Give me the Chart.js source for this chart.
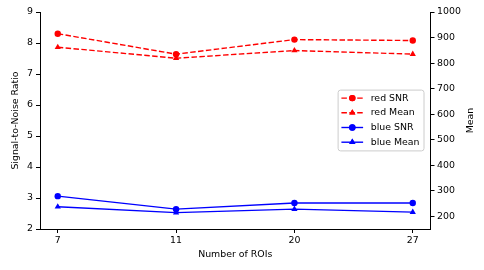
<!DOCTYPE html>
<html>
<head>
<meta charset="utf-8">
<script src="https://cdn.jsdelivr.net/npm/chart.js@4.4.1/dist/chart.umd.min.js"></script>
<style>
  html, body { margin: 0; padding: 0; background: #fff; }
  #wrap { width: 484px; height: 270px; }
</style>
</head>
<body>
<div id="wrap"><canvas id="roiChart" width="484" height="270"></canvas></div>
<script>
const roiCounts = ['7', '11', '20', '27'];
const redSnr = [8.30, 7.64, 8.11, 8.08];
const redMean = [862, 819, 849, 835];
const blueSnr = [3.06, 2.64, 2.84, 2.84];
const blueMean = [237, 214, 228, 216];
const snrTicks = [2, 3, 4, 5, 6, 7, 8, 9];
const meanTicks = [200, 300, 400, 500, 600, 700, 800, 900, 1000];

const FONT = { family: 'DejaVu Sans', size: 9.4 };
Chart.defaults.font.family = FONT.family;
Chart.defaults.font.size = FONT.size;
Chart.defaults.color = '#000';

const toPoints = arr => arr.map((v, i) => ({ x: i, y: v }));

function series(label, values, color, dashed, marker, axis) {
  return {
    label: label,
    data: toPoints(values),
    yAxisID: axis,
    borderColor: color,
    backgroundColor: color,
    borderWidth: 1.4,
    borderDash: dashed ? [5.5, 2.4] : [],
    pointStyle: marker,
    pointRadius: marker === 'triangle' ? 3.6 : 3.2,
    pointHoverRadius: 3.2,
    pointBorderWidth: 0,
    tension: 0
  };
}

/*............ legend inside the axes, centre right ............*/
const innerLegend = {
  id: 'innerLegend',
  afterDraw(chart) {
    const ctx = chart.ctx;
    const area = chart.chartArea;
    const sets = chart.data.datasets;
    ctx.save();
    ctx.font = FONT.size + 'px "' + FONT.family + '"';
    let textW = 0;
    sets.forEach(d => { textW = Math.max(textW, ctx.measureText(d.label).width); });
    const w = 32.6 + textW + 4.5;
    const rowH = 14.7;
    const h = rowH * sets.length + 2;
    const x = area.right - 6.5 - w;
    const y = (area.top + area.bottom) / 2 - h / 2;

    ctx.beginPath();
    ctx.roundRect(x, y, w, h, 2.5);
    ctx.fillStyle = 'rgba(255,255,255,0.8)';
    ctx.fill();
    ctx.strokeStyle = '#cccccc';
    ctx.lineWidth = 1;
    ctx.stroke();

    sets.forEach((d, i) => {
      const cy = y + 8 + i * rowH;
      ctx.beginPath();
      ctx.setLineDash(d.borderDash);
      ctx.strokeStyle = d.borderColor;
      ctx.lineWidth = d.borderWidth;
      ctx.moveTo(x + 3.3, cy);
      ctx.lineTo(x + 25, cy);
      ctx.stroke();
      ctx.setLineDash([]);
      ctx.fillStyle = d.borderColor;
      Chart.helpers.drawPoint(ctx, {
        pointStyle: d.pointStyle, radius: d.pointRadius, borderWidth: 0, rotation: 0
      }, x + 14.2, cy);
      ctx.fill();
      ctx.fillStyle = '#000';
      ctx.textBaseline = 'middle';
      ctx.textAlign = 'left';
      ctx.fillText(d.label, x + 32.6, cy);
    });
    ctx.restore();
  }
};

/*............ right axis title, reading bottom to top ............*/
const rightTitle = {
  id: 'rightTitle',
  afterDraw(chart) {
    const ctx = chart.ctx;
    const s = chart.scales.yMean;
    ctx.save();
    ctx.font = FONT.size + 'px "' + FONT.family + '"';
    ctx.fillStyle = '#000';
    ctx.textAlign = 'center';
    ctx.textBaseline = 'middle';
    ctx.translate(470.5, (s.top + s.bottom) / 2);
    ctx.rotate(-Math.PI / 2);
    ctx.fillText('Mean', 0, 0);
    ctx.restore();
  }
};

const axisLine = { color: '#000', width: 1 };
const tickMarks = { drawOnChartArea: false, color: '#000', tickLength: 4, lineWidth: 1 };

const config = {
  type: 'line',
  data: {
    datasets: [
      series('red SNR', redSnr, '#ff0000', true, 'circle', 'ySnr'),
      series('red Mean', redMean, '#ff0000', true, 'triangle', 'yMean'),
      series('blue SNR', blueSnr, '#0000ff', false, 'circle', 'ySnr'),
      series('blue Mean', blueMean, '#0000ff', false, 'triangle', 'yMean')
    ]
  },
  options: {
    responsive: false,
    animation: false,
    devicePixelRatio: 1,
    layout: { padding: { top: 12, left: 0, right: 0, bottom: 0 } },
    plugins: { legend: { display: false }, tooltip: { enabled: false } },
    scales: {
      x: {
        type: 'linear',
        min: -0.15,
        max: 3.15,
        border: axisLine,
        grid: tickMarks,
        ticks: { padding: 2, callback: v => roiCounts[v] },
        afterBuildTicks: s => { s.ticks = roiCounts.map((_, i) => ({ value: i })); },
        afterFit: s => { s.height = 41; },
        title: { display: true, text: 'Number of ROIs', padding: { top: 0, bottom: 9.7 } }
      },
      ySnr: {
        position: 'left',
        min: 2,
        max: 9,
        border: axisLine,
        grid: tickMarks,
        ticks: { padding: 3, callback: v => String(v) },
        afterBuildTicks: s => { s.ticks = snrTicks.map(v => ({ value: v })); },
        afterFit: s => { s.width = 40; },
        title: { display: true, text: 'Signal-to-Noise Ratio', padding: { top: 9.5, bottom: 0 } }
      },
      yMean: {
        position: 'right',
        min: 150,
        max: 1000,
        border: axisLine,
        grid: tickMarks,
        ticks: { padding: 2.5, callback: v => String(v) },
        afterBuildTicks: s => { s.ticks = meanTicks.map(v => ({ value: v })); },
        afterFit: s => { s.width = 53.5; }
      }
    }
  },
  plugins: [innerLegend, rightTitle]
};

const ctx = document.getElementById('roiChart').getContext('2d');
const roiChart = new Chart(ctx, config);
</script>
</body>
</html>
